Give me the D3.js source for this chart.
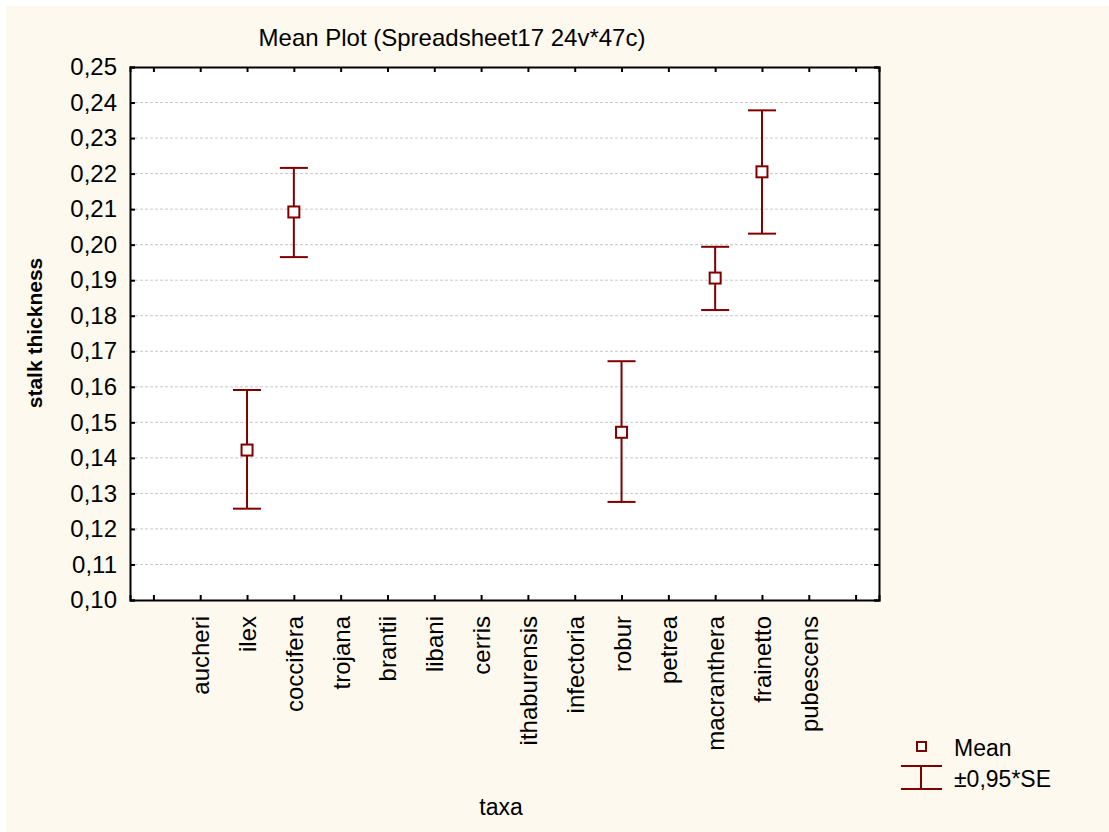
<!DOCTYPE html>
<html>
<head>
<meta charset="utf-8">
<script src="https://cdn.jsdelivr.net/npm/d3@7"></script>
<style>
body { margin: 0; background: #fff; }
text { font-family: "Liberation Sans", Arial, sans-serif; fill: #000; }
</style>
</head>
<body>
<script>
var width = 1109
var height = 832

// data
var taxa = ["aucheri", "ilex", "coccifera", "trojana", "brantii", "libani", "cerris",
  "ithaburensis", "infectoria", "robur", "petrea", "macranthera", "frainetto", "pubescens"];
var meanTaxa = ["ilex", "coccifera", "robur", "macranthera", "frainetto"];
var means = [0.1422, 0.2092, 0.1472, 0.1906, 0.2205];
var upper = [0.1591, 0.2216, 0.1672, 0.1994, 0.2378];
var lower = [0.1257, 0.1965, 0.1276, 0.1816, 0.2031];
var yTicks = [0.10, 0.11, 0.12, 0.13, 0.14, 0.15, 0.16, 0.17, 0.18, 0.19, 0.20, 0.21, 0.22, 0.23, 0.24, 0.25];

var red = "#800000";
var plotLeft = 130, plotRight = 879, plotTop = 67, plotBottom = 600;

var svg = d3.select("body").append("svg")
    .attr("width", width)
    .attr("height", height)

// cream background
svg.append("rect")
    .attr("x", 6).attr("y", 6)
    .attr("width", width - 6).attr("height", height - 6)
    .attr("fill", "#fef9ee")

svg.append("rect")
    .attr("x", plotLeft).attr("y", plotTop)
    .attr("width", plotRight - plotLeft).attr("height", plotBottom - plotTop)
    .attr("fill", "#fff")

// scales: empty slot at each end
var slots = ["_a"].concat(taxa).concat(["_b"]);
var x = d3.scalePoint().domain(slots).range([plotLeft, plotRight]).padding(0.5);
var y = d3.scaleLinear().domain([0.10, 0.25]).range([plotBottom, plotTop]);

var fmt = function(d) { return d3.format(".2f")(d).replace(".", ","); };

// grid
svg.append("g").selectAll("line")
    .data(yTicks.slice(1, -1))
    .join("line")
    .attr("x1", plotLeft).attr("x2", plotRight)
    .attr("y1", d => y(d)).attr("y2", d => y(d))
    .attr("stroke", "#c8c8c8")
    .attr("stroke-dasharray", "3,2")

// axes (ticks inward)
var yLeft = svg.append("g").attr("transform", "translate(" + plotLeft + ",0)")
    .call(d3.axisLeft(y).tickValues(yTicks).tickSize(-5).tickPadding(13).tickFormat(fmt));
var yRight = svg.append("g").attr("transform", "translate(" + plotRight + ",0)")
    .call(d3.axisRight(y).tickValues(yTicks).tickSize(-5).tickFormat(""));
var xBottom = svg.append("g").attr("transform", "translate(0," + plotBottom + ")")
    .call(d3.axisBottom(x).tickSize(-5).tickFormat(""));
var xTop = svg.append("g").attr("transform", "translate(0," + plotTop + ")")
    .call(d3.axisTop(x).tickSize(-5).tickFormat(""));

[yLeft, yRight, xBottom, xTop].forEach(function(g) {
  g.select(".domain").attr("stroke", "#000").attr("stroke-width", 2);
  g.selectAll(".tick line").attr("stroke", "#000").attr("stroke-width", 2);
});
yLeft.selectAll(".tick text").style("font-size", "24px").attr("font-family", null);

// category labels
svg.append("g").selectAll("text")
    .data(taxa)
    .join("text")
    .attr("transform", d => "translate(" + (x(d) + 9) + "," + (plotBottom + 16) + ") rotate(-90)")
    .attr("text-anchor", "end")
    .style("font-size", "24px")
    .text(d => d)

// error bars
var bars = svg.append("g").selectAll("g")
    .data(meanTaxa)
    .join("g")
    .attr("stroke", red)
    .attr("stroke-width", 2)

bars.append("line")
    .attr("x1", d => x(d)).attr("x2", d => x(d))
    .attr("y1", (d, i) => y(upper[i])).attr("y2", (d, i) => y(lower[i]))
bars.append("line")
    .attr("x1", d => x(d) - 14).attr("x2", d => x(d) + 14)
    .attr("y1", (d, i) => y(upper[i])).attr("y2", (d, i) => y(upper[i]))
bars.append("line")
    .attr("x1", d => x(d) - 14).attr("x2", d => x(d) + 14)
    .attr("y1", (d, i) => y(lower[i])).attr("y2", (d, i) => y(lower[i]))
bars.append("rect")
    .attr("x", d => x(d) - 5.5).attr("y", (d, i) => y(means[i]) - 5.5)
    .attr("width", 11).attr("height", 11)
    .attr("fill", "#fff")

// titles
svg.append("text")
    .attr("x", 452).attr("y", 46)
    .attr("text-anchor", "middle")
    .style("font-size", "24px")
    .text("Mean Plot (Spreadsheet17 24v*47c)")

svg.append("text")
    .attr("transform", "translate(42,333) rotate(-90)")
    .attr("text-anchor", "middle")
    .style("font-size", "21px")
    .style("font-weight", "bold")
    .text("stalk thickness")

svg.append("text")
    .attr("x", 501).attr("y", 815)
    .attr("text-anchor", "middle")
    .style("font-size", "23px")
    .text("taxa")

// legend
var legend = svg.append("g")
legend.append("rect")
    .attr("x", 917).attr("y", 742).attr("width", 9).attr("height", 9)
    .attr("fill", "#fff").attr("stroke", red).attr("stroke-width", 2)
legend.append("line").attr("x1", 901).attr("x2", 942).attr("y1", 766).attr("y2", 766)
    .attr("stroke", red).attr("stroke-width", 2)
legend.append("line").attr("x1", 901).attr("x2", 942).attr("y1", 789).attr("y2", 789)
    .attr("stroke", red).attr("stroke-width", 2)
legend.append("line").attr("x1", 921).attr("x2", 921).attr("y1", 766).attr("y2", 789)
    .attr("stroke", red).attr("stroke-width", 2)
legend.append("text").attr("x", 954).attr("y", 756)
    .style("font-size", "23px").text("Mean")
legend.append("text").attr("x", 954).attr("y", 787)
    .style("font-size", "23px").text("±0,95*SE")
</script>
</body>
</html>
